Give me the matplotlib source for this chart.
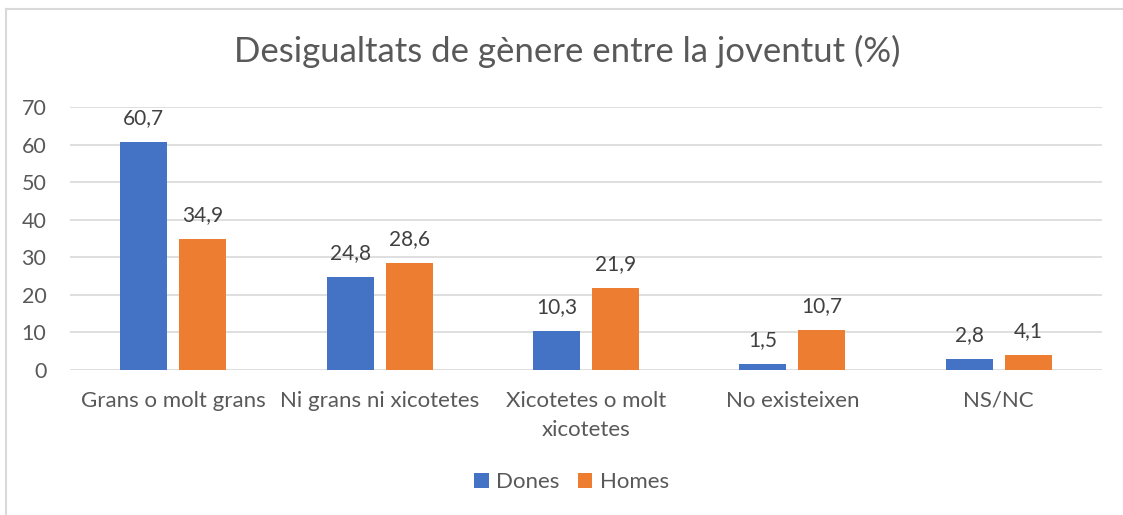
import numpy as np
import matplotlib.pyplot as plt
from matplotlib.lines import Line2D

# ── Data ──────────────────────────────────────────────
categories = ['Grans o molt grans', 'Ni grans ni xicotetes',
              'Xicotetes o molt\nxicotetes', 'No existeixen', 'NS/NC']
dones = [60.7, 24.8, 10.3, 1.5, 2.8]
homes = [34.9, 28.6, 21.9, 10.7, 4.1]
y_ticks = [0, 10, 20, 30, 40, 50, 60, 70]

BLUE = '#4472C4'
ORANGE = '#ED7D31'
TXT = '#595959'
GRID = '#D9D9D9'

plt.rcParams['font.family'] = ['Lato', 'DejaVu Sans']

fig = plt.figure(figsize=(11.23, 5.15), dpi=100)
ax = fig.add_axes([0.0623, 0.2816, 0.919, 0.5106])

x = np.arange(len(categories))
w = 0.228
off = 0.143
b1 = ax.bar(x - off, dones, w, color=BLUE, label='Dones', zorder=3)
b2 = ax.bar(x + off, homes, w, color=ORANGE, label='Homes', zorder=3)

for bars, vals in [(b1, dones), (b2, homes)]:
    for r, v in zip(bars, vals):
        ax.annotate(f'{v:.1f}'.replace('.', ','),
                    (r.get_x() + r.get_width() / 2, r.get_height()),
                    xytext=(0, 10), textcoords='offset points',
                    ha='center', va='bottom', fontsize=15, color='#404040')

ax.set_xlim(-0.5, len(categories) - 0.5)
ax.set_ylim(0, 70)
ax.set_yticks(y_ticks)
ax.set_xticks(x)
ax.set_xticklabels(categories, fontsize=16, color=TXT, linespacing=1.6)
ax.tick_params(axis='y', labelsize=15.5, labelcolor=TXT, length=0, pad=17)
ax.tick_params(axis='x', length=0, pad=15)
ax.yaxis.grid(True, color=GRID, linewidth=1.2, zorder=0)
ax.set_axisbelow(True)
for s in ax.spines.values():
    s.set_visible(False)

fig.text(0.505, 0.9, 'Desigualtats de gènere entre la joventut (%)',
         ha='center', va='center', fontsize=25, color=TXT)

fig.legend(handles=[b1, b2], labels=['Dones', 'Homes'], loc='center',
           bbox_to_anchor=(0.509, 0.064), ncol=2, frameon=False,
           fontsize=16, labelcolor=TXT, handlelength=0.65, handleheight=0.65,
           handletextpad=0.35, columnspacing=0.8)

# chart frame (only left and top edges are visible in the crop)
fig.add_artist(Line2D([0.005, 0.005], [0, 0.983], color='#D9D9D9', lw=1.5))
fig.add_artist(Line2D([0.005, 1.0], [0.983, 0.983], color='#D9D9D9', lw=1.5))

fig.savefig('out.png', dpi=100)
